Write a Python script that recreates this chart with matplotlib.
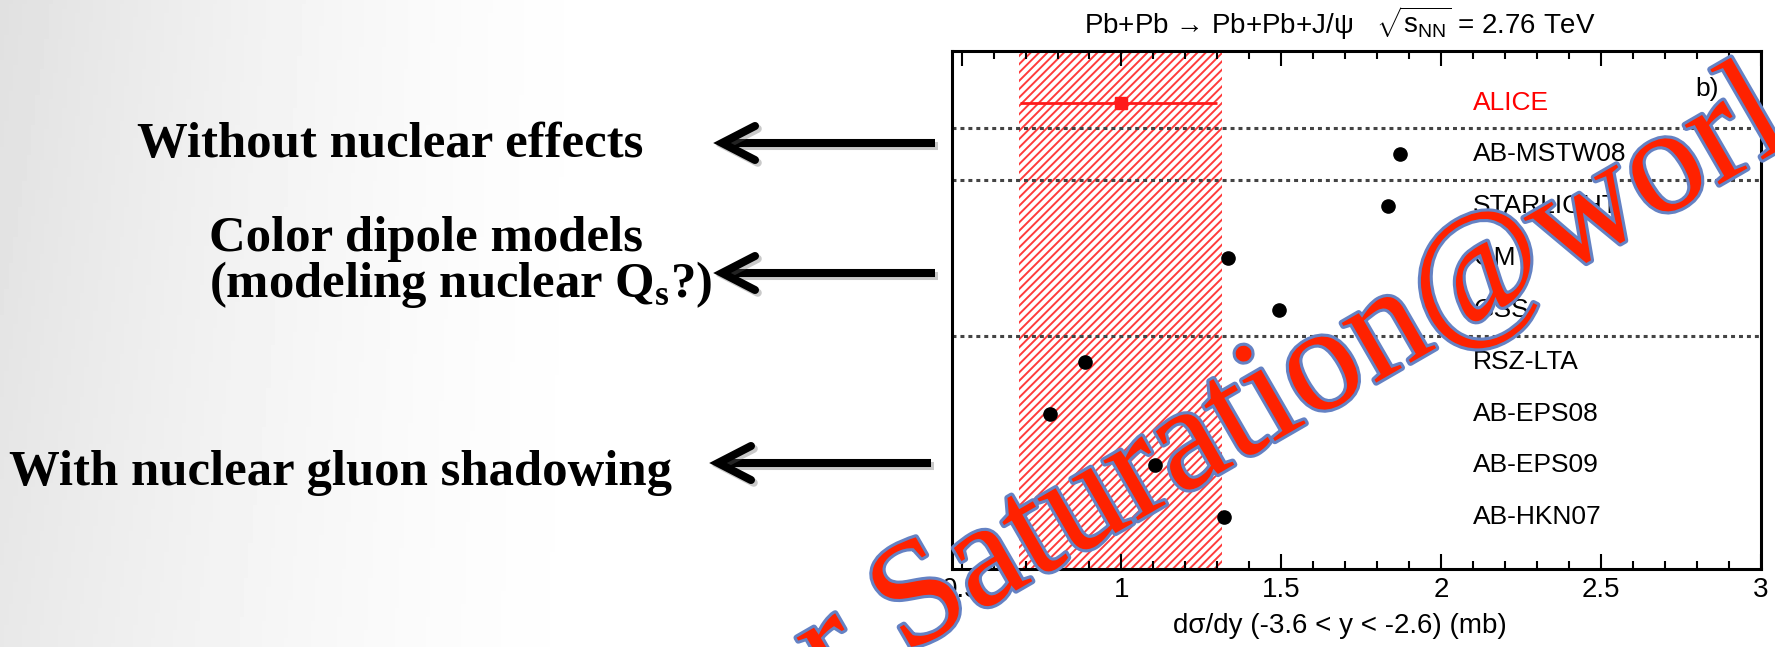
import matplotlib
matplotlib.use("Agg")
import matplotlib.pyplot as plt
import matplotlib.patheffects as pe
from matplotlib.lines import Line2D
from matplotlib.ticker import MultipleLocator, FormatStrFormatter
import numpy as np

plt.rcParams['font.family'] = ['Liberation Sans', 'DejaVu Sans']
plt.rcParams['mathtext.fontset'] = 'custom'
plt.rcParams['mathtext.rm'] = 'Liberation Sans'
plt.rcParams['mathtext.it'] = 'Liberation Sans:italic'
plt.rcParams['mathtext.bf'] = 'Liberation Serif:bold'
plt.rcParams['hatch.linewidth'] = 1.4

# --- data
alice_xsec = 1.00
alice_err_lo = 0.316
alice_err_hi = 0.30
alice_band = (0.68, 1.315)

models = ['AB-MSTW08', 'STARLIGHT', 'GM', 'GSS', 'RSZ-LTA',
          'AB-EPS08', 'AB-EPS09', 'AB-HKN07']
model_xsec = [1.870, 1.832, 1.333, 1.493, 0.887, 0.777, 1.106, 1.322]

group_breaks = [0.5, 1.5, 4.5]

notes = ['Without nuclear effects',
         'Color dipole models\n(modeling nuclear Q$_\\mathbf{s}$?)',
         'With nuclear gluon shadowing']

W, H = 1775, 647
fig = plt.figure(figsize=(W / 100, H / 100), dpi=100)


def fx(px):
    return px / W


def fy(py):
    return 1 - py / H


# slide background: soft grey fading to white
bg = fig.add_axes([0, 0, 1, 1], zorder=-5)
gx = np.linspace(0, 1, 400)
gy = np.linspace(0, 1, 150)
GX, GY = np.meshgrid(gx, gy)
dark = 0.12 * np.clip(1 - GX / 0.36, 0, 1) ** 1.6 * (0.75 + 0.25 * GY)
bg.imshow(1 - dark, cmap='gray', vmin=0, vmax=1, extent=[0, 1, 0, 1],
          origin='lower', aspect='auto')
bg.axis('off')

# --- chart
ax = fig.add_axes([fx(952), fy(569), fx(1761 - 952), (569 - 50.7) / H])
red = '#ff1a1a'

ax.axvspan(alice_band[0], alice_band[1], facecolor='none', edgecolor='#ff3b3b',
           hatch='////', linewidth=0, zorder=1)
ax.errorbar([alice_xsec], [0], xerr=[[alice_err_lo], [alice_err_hi]],
            fmt='s', color=red, ms=9, elinewidth=2, capsize=0, zorder=3)
ax.text(2.10, 0, 'ALICE', color='#ff0000', fontsize=19, va='center', ha='left')

ypos = np.arange(1, len(models) + 1)
ax.plot(model_xsec, ypos, 'o', color='black', ms=9.5, zorder=3)
for y, name in zip(ypos, models):
    ax.text(2.10, y, name, fontsize=19, va='center', ha='left')

for yb in group_breaks:
    ax.axhline(yb, color='#444444', lw=2.2, linestyle=(0, (1.3, 1.3)), zorder=2)

ax.text(2.83, -0.27, 'b)', fontsize=19, va='center', ha='center')

ax.set_xlim(0.47, 3.0)
ax.set_ylim(len(models) + 1, -1)
ax.set_yticks([])
ax.xaxis.set_major_locator(MultipleLocator(0.5))
ax.xaxis.set_minor_locator(MultipleLocator(0.1))
ax.xaxis.set_major_formatter(FormatStrFormatter('%g'))
ax.tick_params(axis='x', which='both', direction='in', top=True, width=1.5,
               labelsize=20, pad=6)
ax.tick_params(axis='x', which='major', length=11)
ax.tick_params(axis='x', which='minor', length=5.5)
for s in ax.spines.values():
    s.set_linewidth(2.2)
ax.set_xlabel('dσ/dy (-3.6 < y < -2.6) (mb)', fontsize=20, x=0.48, labelpad=7)
ax.set_title('Pb+Pb → Pb+Pb+J/ψ   $\\sqrt{\\mathrm{s}_{\\mathrm{NN}}}$ = 2.76 TeV',
             fontsize=20, x=0.48, pad=12)

# --- slide notes and arrows
serif = dict(family='Liberation Serif', weight='bold', fontsize=36.5)
fig.text(fx(390), fy(145), notes[0], ha='center', va='center', **serif)
fig.text(fx(209), fy(263), notes[1], ha='left', va='center',
         linespacing=0.9, **serif)
fig.text(fx(9), fy(473), notes[2], ha='left', va='center', **serif)

shadow = [pe.SimpleLineShadow(offset=(2, -2), shadow_color='0.4', alpha=0.35),
          pe.Normal()]
for tip, tail, y in [(722, 935, 143), (722, 935, 273), (718, 931, 463)]:
    fig.add_artist(Line2D([fx(tip + 4), fx(tail)], [fy(y), fy(y)], color='black',
                          lw=5.8, solid_capstyle='butt', path_effects=shadow))
    fig.add_artist(Line2D([fx(tip + 33), fx(tip), fx(tip + 33)],
                          [fy(y - 17), fy(y), fy(y + 17)], color='black',
                          lw=5.8, solid_capstyle='round',
                          solid_joinstyle='miter', path_effects=shadow))

# overlay lettering
fig.text(0.729, 0.400, 'r Saturation@worl', rotation=30, rotation_mode='anchor',
         ha='center', va='center', family='Liberation Serif', fontsize=108,
         color='#ff2200', zorder=10,
         path_effects=[pe.Stroke(linewidth=4.5, foreground='#6482c4'), pe.Normal()])

fig.savefig('out.png', dpi=100)
